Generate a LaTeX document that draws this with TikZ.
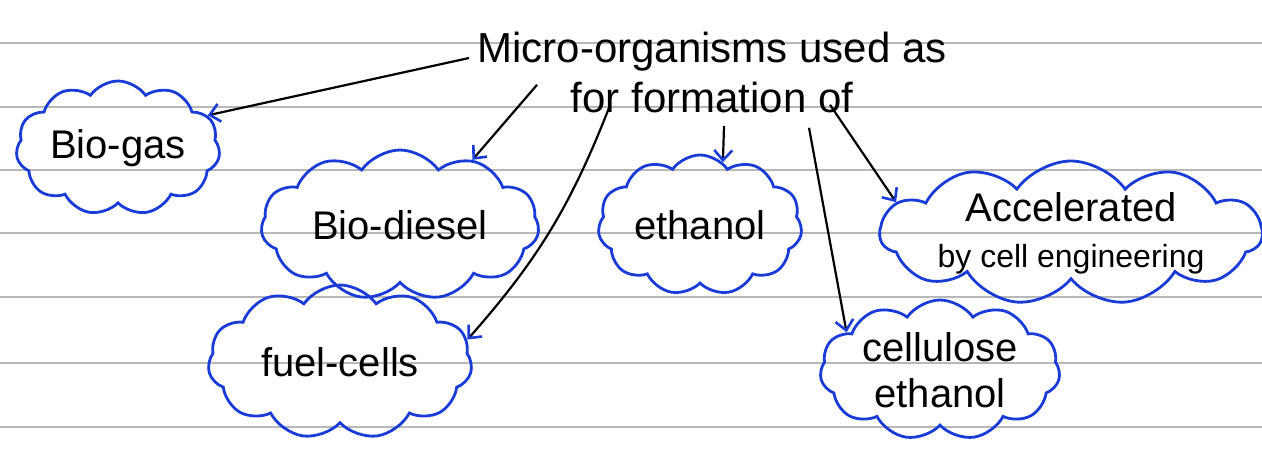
\documentclass[tikz,border=0pt]{standalone}
\usepackage{fontspec}
\setmainfont{Liberation Sans}
\usepackage{tikz}
\usetikzlibrary{shapes.symbols}
\usetikzlibrary{arrows.meta}
\definecolor{inkblue}{RGB}{25,60,215}

\begin{document}
\begin{tikzpicture}[x=0.5pt, y=-0.5pt,
        puff/.style={cloud, cloud puffs=11, cloud puff arc=110, cloud ignores aspect, draw=inkblue, line width=1.4pt, inner sep=-6pt, font=\fontsize{20}{23}\selectfont, align=center},
        link/.style={draw=black, line width=1.1pt, -{Straight Barb[color=inkblue, length=5pt, width=9pt, line width=1.3pt]}},
        rule/.style={draw=black!28, line width=0.8pt}
      ]
        \useasboundingbox (0,0) rectangle (1262,450);
        % ruled paper
        \foreach \y in {43,107,170,233,297,363,427}
          \draw[rule] (0,\y) -- (1262,\y);

        \node[font=\fontsize{21}{25}\selectfont, align=center, inner sep=0pt]  (title)  at(712, 72)  {Micro-organisms used as\\for formation of};

        \node[puff, minimum width=102pt, minimum height=67pt]  (biogas)     at(118, 148)   {Bio-gas};
        \node[puff, minimum width=139pt, minimum height=75pt]  (biodiesel)  at(400, 225)   {Bio-diesel};
        \node[puff, minimum width=132pt, minimum height=77pt]  (fuelcells)  at(340, 362)   {fuel-cells};
        \node[puff, minimum width=102pt, minimum height=70pt]  (ethanol)    at(700, 225)   {ethanol};
        \node[puff, minimum width=191pt, minimum height=72pt]  (accel)      at(1071, 233)  {Accelerated\\{\fontsize{16}{19}\selectfont by cell engineering}};
        \node[puff, minimum width=120pt, minimum height=70pt]  (cellulose)  at(940, 370)   {cellulose\\ethanol};

        \draw[link]  ([xshift=-4pt, yshift=7pt]title.west) -- (biogas.20);
        \draw[link]  ([xshift=30pt, yshift=14pt]title.south west) -- (biodiesel.42);
        \draw[link]  ([xshift=66pt, yshift=2.5pt]title.south west) to[bend left=10] (fuelcells.10);
        \draw[link]  ([xshift=123.5pt, yshift=-6.5pt]title.south west) -- (ethanol.70);
        \draw[link]  ([xshift=166pt, yshift=-7.5pt]title.south west) -- (cellulose.158);
        \draw[link]  ([xshift=176.5pt, yshift=4pt]title.south west) -- (accel.170);
      \end{tikzpicture}
\end{document}
